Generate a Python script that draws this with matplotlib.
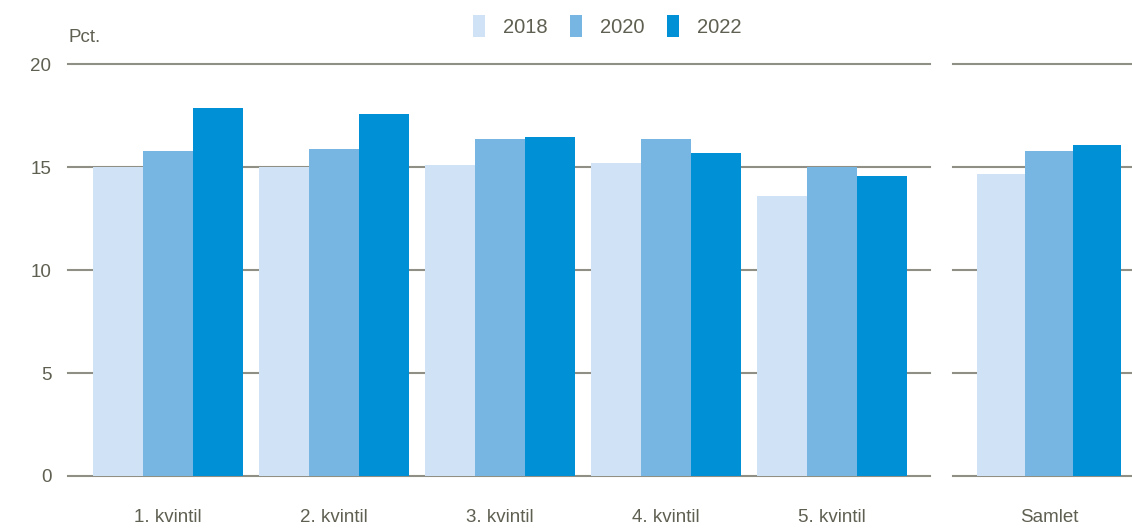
import numpy as np
import matplotlib.pyplot as plt

plt.rcParams['font.family'] = ['Liberation Sans', 'DejaVu Sans']

kvintiler = ["1. kvintil", "2. kvintil", "3. kvintil", "4. kvintil", "5. kvintil"]
aar = ["2018", "2020", "2022"]
v2018 = [15.0, 15.0, 15.1, 15.2, 13.6]
v2020 = [15.8, 15.9, 16.4, 16.4, 15.0]
v2022 = [17.9, 17.6, 16.5, 15.7, 14.6]
samlet_label = ["Samlet"]
samlet = [14.7, 15.8, 16.1]

farver = ["#d0e2f5", "#77b5e3", "#0090d6"]
tekst = "#5f5f52"
grid = "#8f8f85"

fig = plt.figure(figsize=(11.32, 5.32), dpi=100)
ax1 = fig.add_axes([68 / 1132, 1 - 476 / 532, 862 / 1132, 411.5 / 532])
ax2 = fig.add_axes([953 / 1132, 1 - 476 / 532, 179 / 1132, 411.5 / 532])

bw = 50 / 166
x = np.arange(len(kvintiler))
for i, vals in enumerate([v2018, v2020, v2022]):
    ax1.bar(x + (i - 1) * bw, vals, bw, color=farver[i], label=aar[i], zorder=3)
ax1.set_xlim(-100 / 166, 762 / 166)

bw2 = 48 / 160
for i in range(3):
    ax2.bar(0 + (i - 1) * bw2, samlet[i], bw2, color=farver[i], zorder=3)
ax2.set_xlim(-96 / 160, 83 / 160)

for ax in (ax1, ax2):
    ax.set_ylim(0, 20)
    ax.set_yticks([0, 5, 10, 15, 20])
    for y in [0, 5, 10, 15, 20]:
        ax.axhline(y, color=grid, lw=1.5, zorder=2, clip_on=False)
    for s in ax.spines.values():
        s.set_visible(False)
    ax.tick_params(length=0, colors=tekst, labelsize=13.5)

ax1.set_xticks(x)
ax1.set_xticklabels(kvintiler)
ax1.tick_params(axis='x', pad=24)
ax1.tick_params(axis='y', pad=12)
ax2.set_xticks([0])
ax2.set_xticklabels(samlet_label)
ax2.tick_params(axis='x', pad=24)
ax2.set_yticklabels([])

fig.text(68 / 1132, 1 - 38 / 532, "Pct.", color=tekst, fontsize=13.5, va='center', ha='left')

fig.legend(loc='center', bbox_to_anchor=(607 / 1132, 1 - 26 / 532), ncol=3, frameon=False,
           fontsize=14.5, handlelength=0.6, handleheight=1.25, handletextpad=0.9,
           columnspacing=1.1, labelcolor=tekst)

fig.savefig("out.png", dpi=100)
